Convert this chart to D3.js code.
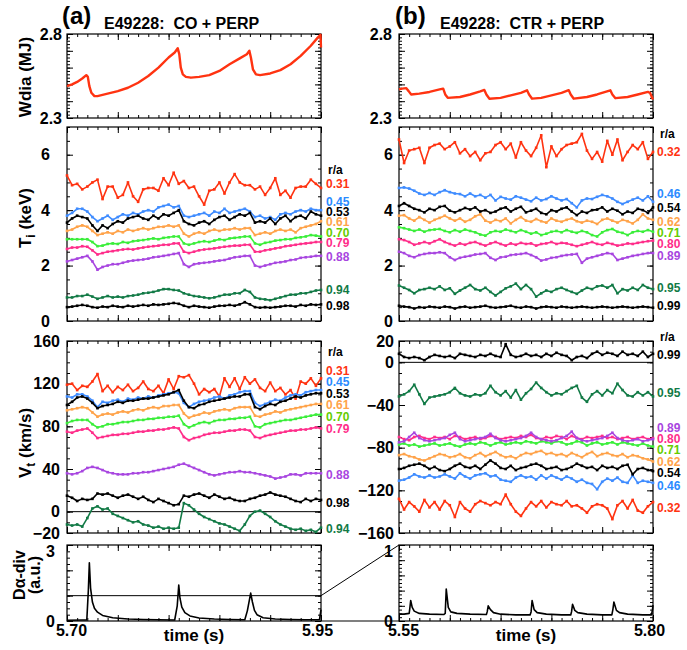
<!DOCTYPE html>
<html>
<head>
<meta charset="utf-8">
<script src="https://cdn.jsdelivr.net/npm/d3@7"></script>
<style>
  body { margin: 0; background: #fff; }
  svg { display: block; }
  text { font-family: "Liberation Sans", Arial, Helvetica, sans-serif; font-weight: bold; }
</style>
</head>
<body>
<svg id="chart" width="687" height="650"></svg>
<script>
// ---------------- data ----------------
// profile radii (r/a) for each column
const radiiA = ["0.31", "0.45", "0.53", "0.61", "0.70", "0.79", "0.88", "0.94", "0.98"];
const radiiB = ["0.32", "0.46", "0.54", "0.62", "0.71", "0.80", "0.89", "0.95", "0.99"];

// sampling of the profile channels (s)
const tStartA = 5.70, tStartB = 5.55, sampleStep = 0.005, sampleCount = 51;

// Stored energy (MJ): [time, value]
const wdiaTimeA = [5.700,5.705,5.710,5.715,5.719,5.7205,5.722,5.724,5.727,5.730,5.740,5.750,5.760,5.770,5.780,5.790,5.800,5.806,5.809,5.8105,5.812,5.814,5.817,5.822,5.830,5.840,5.850,5.860,5.870,5.877,5.8795,5.881,5.883,5.886,5.890,5.900,5.910,5.920,5.930,5.940,5.947,5.9495,5.950];
const wdiaA     = [2.49,2.50,2.515,2.535,2.555,2.545,2.49,2.45,2.43,2.43,2.445,2.46,2.48,2.51,2.55,2.60,2.66,2.69,2.715,2.68,2.60,2.56,2.545,2.54,2.545,2.555,2.58,2.62,2.655,2.68,2.70,2.66,2.59,2.56,2.555,2.565,2.585,2.62,2.67,2.73,2.78,2.795,2.72];
const wdiaTimeB = [5.550,5.553,5.557,5.5595,5.562,5.570,5.580,5.590,5.5935,5.5955,5.598,5.610,5.620,5.630,5.634,5.636,5.639,5.650,5.660,5.670,5.676,5.678,5.681,5.690,5.700,5.710,5.717,5.719,5.722,5.735,5.745,5.758,5.760,5.763,5.775,5.785,5.795,5.797,5.800];
const wdiaB     = [2.47,2.475,2.478,2.46,2.44,2.445,2.455,2.47,2.475,2.44,2.42,2.425,2.44,2.458,2.467,2.44,2.415,2.42,2.435,2.45,2.465,2.44,2.415,2.42,2.435,2.45,2.466,2.44,2.415,2.425,2.44,2.465,2.44,2.418,2.425,2.44,2.455,2.45,2.41];

// Ion temperature (keV), column (a)
const tiA_031 = [5.25,4.9,4.95,4.75,4.85,5.0,5.1,4.4,4.85,4.85,4.45,4.55,5.0,4.5,4.3,4.75,4.8,4.8,4.7,5.15,4.9,5.35,4.95,5.05,4.8,4.85,4.5,4.2,4.7,4.75,5.0,4.6,5.0,5.3,5.0,4.9,4.9,4.75,4.85,4.55,4.8,5.15,4.55,4.7,4.45,4.8,4.85,4.85,5.1,4.95,4.8];
const tiA_045 = [3.8,3.9,4.05,4.05,3.95,3.75,3.6,3.7,3.8,3.65,3.75,3.85,3.8,3.9,3.85,3.95,4.0,3.95,4.1,4.15,4.2,4.1,4.15,3.8,3.75,3.8,3.85,3.9,3.8,3.95,3.9,4.05,3.9,3.95,4.0,4.05,3.95,3.75,3.8,3.7,3.75,3.65,3.85,3.9,3.85,3.95,4.0,3.95,4.05,4.0,4.0];
const tiA_053 = [3.55,3.7,3.8,3.75,3.7,3.45,3.25,3.45,3.35,3.5,3.6,3.55,3.7,3.75,3.8,3.7,3.65,3.8,3.7,3.85,3.8,3.9,4.0,3.6,3.5,3.45,3.55,3.6,3.5,3.65,3.75,3.8,3.65,3.75,3.85,3.8,3.9,3.55,3.6,3.55,3.7,3.5,3.7,3.8,3.6,3.75,3.8,3.7,3.95,3.85,3.8];
const tiA_061 = [3.25,3.3,3.4,3.45,3.4,3.25,3.1,3.15,3.2,3.15,3.25,3.2,3.3,3.25,3.3,3.35,3.3,3.35,3.4,3.4,3.45,3.4,3.45,3.15,3.05,3.15,3.2,3.15,3.25,3.3,3.25,3.3,3.3,3.35,3.3,3.35,3.35,3.1,3.15,3.2,3.15,3.25,3.3,3.25,3.3,3.2,3.35,3.4,3.45,3.5,3.6];
const tiA_070 = [2.95,2.95,2.95,2.95,2.95,2.85,2.7,2.72,2.78,2.8,2.78,2.85,2.82,2.88,2.9,2.92,2.95,2.98,2.95,3.0,3.02,3.05,3.05,2.8,2.75,2.8,2.85,2.88,2.85,2.9,2.95,2.92,2.98,3.0,3.02,3.05,3.05,2.8,2.75,2.82,2.85,2.9,2.92,2.95,2.95,3.0,3.02,3.05,3.1,3.08,3.05];
const tiA_079 = [2.6,2.65,2.65,2.7,2.68,2.55,2.4,2.45,2.5,2.52,2.55,2.58,2.6,2.58,2.62,2.65,2.68,2.7,2.72,2.75,2.75,2.8,2.8,2.5,2.45,2.5,2.55,2.58,2.6,2.62,2.65,2.68,2.7,2.72,2.72,2.75,2.75,2.5,2.5,2.55,2.58,2.62,2.65,2.7,2.72,2.75,2.78,2.8,2.82,2.85,2.85];
const tiA_088 = [2.15,2.2,2.25,2.3,2.35,2.15,1.85,1.95,2.0,2.05,2.05,2.1,2.15,2.18,2.2,2.22,2.25,2.3,2.32,2.35,2.38,2.42,2.45,2.05,1.95,2.05,2.08,2.1,2.12,2.15,2.18,2.2,2.25,2.3,2.32,2.35,2.35,2.0,1.95,2.0,2.05,2.1,2.12,2.15,2.2,2.22,2.28,2.3,2.32,2.35,2.35];
const tiA_094 = [0.85,0.85,0.9,0.9,0.95,0.88,0.8,0.85,0.9,0.85,0.88,0.85,0.9,0.92,0.95,1.0,1.02,1.05,1.1,1.15,1.15,1.12,1.1,1.0,0.95,0.9,0.88,0.85,0.82,0.85,0.9,0.95,0.95,1.0,1.0,1.12,1.05,0.85,0.8,0.78,0.75,0.8,0.85,0.9,0.95,0.95,1.0,1.0,1.05,1.1,1.12];
const tiA_098 = [0.5,0.52,0.55,0.58,0.55,0.5,0.48,0.52,0.5,0.55,0.52,0.5,0.55,0.52,0.55,0.58,0.55,0.6,0.58,0.6,0.62,0.65,0.62,0.55,0.5,0.55,0.52,0.5,0.48,0.52,0.55,0.55,0.58,0.55,0.6,0.68,0.6,0.5,0.48,0.5,0.48,0.5,0.52,0.55,0.55,0.52,0.58,0.55,0.6,0.58,0.6];

// Ion temperature (keV), column (b)
const tiB_032 = [6.55,5.7,6.15,6.2,6.25,5.7,6.25,6.35,6.4,6.2,6.3,6.45,6.05,6.2,5.95,6.1,5.8,6.05,6.1,6.35,6.45,6.2,6.4,5.9,6.45,6.15,5.95,6.25,6.7,5.55,6.3,5.95,6.2,6.35,6.4,6.45,6.75,6.15,5.85,6.1,5.75,6.5,6.0,6.55,5.8,6.1,6.35,6.2,6.45,5.85,6.1];
const tiB_046 = [4.8,4.82,4.78,4.7,4.6,4.55,4.62,4.55,4.65,4.72,4.65,4.6,4.58,4.5,4.6,4.5,4.55,4.45,4.55,4.35,4.48,4.42,4.38,4.5,4.45,4.38,4.32,4.45,4.35,4.4,4.5,4.42,4.35,4.4,4.25,4.1,4.35,4.42,4.4,4.48,4.55,4.5,4.42,4.3,4.22,4.3,4.38,4.45,4.35,4.5,4.3];
const tiB_054 = [4.15,4.25,4.15,4.05,4.0,3.92,4.05,4.0,4.12,4.15,3.98,3.92,4.0,4.08,4.02,4.1,3.95,4.0,3.9,3.95,4.05,4.1,3.95,4.05,4.12,3.92,3.98,4.05,3.9,3.85,4.0,3.95,4.05,4.1,3.95,3.82,3.95,3.9,4.0,4.02,4.1,3.95,4.05,3.98,3.85,3.95,3.9,4.05,4.0,3.9,4.1];
const tiB_062 = [3.8,3.82,3.7,3.62,3.75,3.65,3.55,3.65,3.72,3.8,3.7,3.62,3.7,3.58,3.65,3.78,3.85,3.62,3.55,3.65,3.6,3.7,3.52,3.65,3.75,3.62,3.58,3.68,3.6,3.55,3.7,3.62,3.58,3.65,3.7,3.6,3.55,3.62,3.58,3.5,3.65,3.7,3.62,3.55,3.65,3.6,3.52,3.65,3.85,3.7,3.65];
const tiB_071 = [3.38,3.35,3.3,3.25,3.3,3.22,3.28,3.3,3.32,3.25,3.2,3.28,3.22,3.3,3.25,3.2,3.12,3.08,3.2,3.25,3.22,3.3,3.25,3.2,3.28,3.22,3.15,3.2,3.1,3.15,3.22,3.25,3.2,3.28,3.22,3.18,3.25,3.2,3.1,3.05,3.2,3.28,3.32,3.22,3.18,3.1,3.2,3.25,3.22,3.28,3.22];
const tiB_080 = [2.95,2.92,2.85,2.75,2.8,2.85,2.8,2.88,2.95,2.85,2.78,2.72,2.8,2.75,2.82,2.85,2.78,2.72,2.8,2.85,2.78,2.72,2.8,2.75,2.82,2.78,2.8,2.72,2.78,2.8,2.85,2.78,2.82,2.8,2.75,2.7,2.75,2.8,2.85,2.78,2.75,2.82,2.78,2.72,2.75,2.8,2.78,2.82,2.85,2.88,2.9];
const tiB_089 = [2.5,2.45,2.35,2.3,2.38,2.42,2.45,2.45,2.48,2.45,2.3,2.2,2.28,2.32,2.35,2.4,2.42,2.45,2.28,2.2,2.3,2.32,2.38,2.4,2.42,2.45,2.38,2.3,2.18,2.22,2.28,2.3,2.35,2.38,2.4,2.42,2.1,2.25,2.3,2.35,2.4,2.45,2.42,2.2,2.25,2.3,2.35,2.38,2.42,2.45,2.45];
const tiB_095 = [1.28,1.2,1.12,1.0,1.12,1.15,1.2,1.15,1.25,1.12,1.18,0.98,1.1,1.2,1.3,1.15,1.1,1.2,1.05,0.92,1.05,1.18,1.25,1.35,1.15,1.3,1.15,0.88,1.0,1.1,1.05,1.15,1.2,1.12,1.05,0.98,1.1,1.2,1.15,1.25,1.28,1.2,1.3,1.0,1.15,1.1,1.2,1.12,1.3,1.2,1.15];
const tiB_099 = [0.55,0.52,0.5,0.45,0.5,0.48,0.52,0.5,0.48,0.52,0.5,0.45,0.5,0.52,0.48,0.5,0.52,0.55,0.5,0.48,0.5,0.52,0.55,0.5,0.48,0.52,0.5,0.45,0.5,0.52,0.5,0.48,0.52,0.5,0.48,0.5,0.52,0.5,0.48,0.5,0.52,0.5,0.48,0.5,0.52,0.5,0.48,0.5,0.52,0.5,0.48];

// Toroidal rotation (km/s), column (a)
const vtA_031 = [119,120,114,118,117,122,129,113,118,112,117,114,119,113,116,122,115,113,118,111,124,115,127,126,128,120,110,115,112,115,108,125,117,125,115,126,120,124,116,113,121,113,116,110,114,106,122,120,125,118,125];
const vtA_045 = [108,107,110,110,108,104,98,103,102,104,105,103,106,105,107,106,108,107,109,110,111,112,111,102,98,101,103,104,105,107,108,106,109,110,112,113,113,102,99,101,103,105,104,107,109,110,109,112,113,114,114];
const vtA_053 = [100,103,107,108,106,102,97,99,100,101,103,102,104,104,105,106,106,107,108,109,110,112,114,104,98,97,100,101,103,104,105,106,107,108,108,110,110,98,96,99,101,100,103,104,106,108,107,109,110,111,111];
const vtA_061 = [95,96,97,98,97,93,89,91,92,91,93,94,93,95,96,95,97,98,97,99,99,100,100,92,88,90,91,93,92,94,95,96,95,97,98,98,98,90,89,91,92,94,93,95,96,97,98,99,100,101,101];
const vtA_070 = [83,85,86,86,86,82,79,80,82,82,83,84,84,85,86,86,87,87,88,88,89,89,90,82,79,81,83,84,83,85,86,86,87,87,88,88,89,80,79,82,83,84,85,86,86,87,88,89,90,91,91];
const vtA_079 = [75,74,76,77,78,74,69,70,71,72,72,73,73,74,75,75,76,76,77,77,78,79,78,70,67,69,70,72,73,74,74,75,76,76,77,77,76,70,69,71,72,73,74,75,76,76,77,77,78,79,78];
const vtA_088 = [36,35,36,38,41,42,41,39,37,36,35,35,35,36,36,37,37,38,39,40,41,42,44,45,43,41,39,37,35,34,35,36,37,37,38,37,37,36,35,34,33,31,32,33,35,35,34,36,36,36,36];
const vtA_094 = [-12,-13,-12,-14,-6,3,5,2,3,-2,-4,-6,-8,-10,-9,-12,-13,-15,-14,-16,-15,-16,-15,8,6,2,-2,-5,-7,-9,-11,-12,-14,-16,-18,-12,-4,0,1,-2,-5,-9,-12,-14,-16,-17,-16,-18,-17,-19,-15];
const vtA_098 = [15,13,10,12,11,12,17,16,17,15,13,15,16,14,12,14,11,9,12,10,8,6,7,15,14,16,17,15,13,16,14,12,13,11,10,10,12,13,15,16,18,16,15,14,12,10,9,12,10,12,11];

// Toroidal rotation (km/s), column (b)
const vtB_032 = [-128,-138,-131,-135,-140,-129,-136,-131,-138,-130,-134,-145,-131,-137,-140,-133,-130,-132,-134,-131,-133,-124,-133,-140,-144,-137,-131,-135,-130,-136,-131,-133,-134,-130,-135,-134,-137,-141,-135,-133,-134,-137,-147,-134,-130,-137,-129,-139,-141,-135,-131];
const vtB_046 = [-111,-110,-108,-105,-107,-108,-106,-108,-107,-105,-107,-109,-104,-107,-109,-106,-105,-104,-107,-106,-110,-111,-112,-108,-106,-108,-107,-110,-106,-109,-106,-108,-110,-107,-109,-112,-110,-113,-114,-119,-112,-109,-111,-108,-112,-113,-106,-113,-111,-112,-113];
const vtB_054 = [-100,-99,-97,-96,-95,-97,-100,-98,-101,-102,-100,-97,-95,-98,-99,-97,-100,-96,-92,-95,-99,-100,-97,-101,-99,-98,-96,-95,-97,-100,-99,-98,-101,-100,-98,-95,-97,-99,-98,-101,-97,-99,-98,-100,-97,-96,-105,-100,-99,-101,-102];
const vtB_062 = [-87,-86,-88,-89,-91,-92,-90,-88,-86,-87,-89,-88,-86,-89,-90,-87,-85,-88,-86,-84,-87,-89,-88,-90,-87,-85,-86,-84,-83,-86,-85,-87,-86,-88,-85,-87,-89,-86,-84,-88,-86,-85,-87,-88,-86,-89,-87,-88,-90,-91,-93];
const vtB_071 = [-77,-76,-78,-77,-79,-78,-77,-76,-78,-77,-76,-78,-79,-77,-76,-77,-75,-76,-78,-76,-75,-77,-76,-75,-76,-74,-75,-76,-74,-75,-76,-74,-75,-77,-76,-74,-75,-78,-76,-75,-77,-76,-75,-77,-75,-76,-77,-78,-76,-78,-79];
const vtB_080 = [-70,-72,-73,-70,-69,-71,-72,-70,-71,-70,-72,-69,-70,-72,-71,-70,-72,-71,-69,-70,-72,-71,-70,-71,-69,-70,-68,-71,-72,-70,-71,-69,-70,-72,-69,-71,-72,-70,-71,-70,-69,-71,-70,-72,-71,-70,-72,-71,-70,-72,-71];
const vtB_089 = [-75,-74,-70,-66,-71,-73,-74,-73,-72,-71,-68,-66,-72,-74,-73,-72,-71,-70,-67,-71,-73,-74,-73,-72,-71,-69,-66,-70,-72,-73,-74,-73,-71,-69,-65,-71,-73,-74,-73,-72,-71,-69,-66,-71,-73,-74,-73,-72,-74,-73,-72];
const vtB_095 = [-32,-30,-27,-21,-30,-39,-33,-32,-31,-30,-28,-24,-29,-31,-32,-30,-31,-29,-22,-28,-31,-27,-33,-26,-35,-29,-25,-19,-24,-28,-31,-29,-30,-27,-24,-22,-33,-37,-30,-27,-31,-26,-29,-20,-26,-31,-32,-28,-31,-28,-32];
const vtB_099 = [8,5,4,5,4,2,5,7,6,5,6,4,8,7,6,5,7,6,8,6,5,17,7,5,6,8,6,7,5,8,6,9,7,6,2,5,6,4,8,10,7,9,8,6,10,7,8,6,10,5,8];

// Divertor D-alpha (a.u.): [time, value]
const daTimeA = [5.700,5.715,5.7195,5.7210,5.7220,5.7232,5.725,5.727,5.730,5.735,5.745,5.760,5.775,5.790,5.806,5.8085,5.8100,5.8112,5.813,5.816,5.821,5.830,5.845,5.860,5.875,5.8775,5.8808,5.8825,5.8845,5.887,5.893,5.905,5.920,5.935,5.9485,5.950];
const daA     = [0.03,0.04,0.04,1.2,2.3,1.3,0.75,0.5,0.35,0.22,0.13,0.08,0.06,0.05,0.04,0.6,1.42,0.9,0.55,0.33,0.2,0.12,0.08,0.06,0.05,0.4,1.1,0.75,0.42,0.25,0.13,0.08,0.06,0.05,0.05,0.45];
const daTimeB = [5.550,5.555,5.560,5.5605,5.5615,5.563,5.565,5.570,5.580,5.594,5.5955,5.5965,5.5985,5.601,5.607,5.620,5.636,5.6368,5.6378,5.640,5.643,5.650,5.665,5.679,5.680,5.681,5.683,5.686,5.695,5.710,5.719,5.7198,5.7208,5.723,5.726,5.735,5.750,5.7595,5.7605,5.7615,5.764,5.767,5.775,5.790,5.7985,5.7995,5.800];
const daB     = [0.09,0.09,0.1,0.15,0.27,0.18,0.13,0.1,0.09,0.085,0.1,0.42,0.18,0.12,0.1,0.09,0.085,0.12,0.2,0.15,0.11,0.09,0.08,0.08,0.12,0.27,0.15,0.11,0.09,0.08,0.08,0.12,0.22,0.14,0.11,0.09,0.08,0.08,0.15,0.25,0.14,0.11,0.09,0.08,0.08,0.15,0.21];

// ---------------- styling / layout ----------------
const lineColors  = ["#ff3311", "#3f8cff", "#000000", "#ffa34a", "#3aee3a", "#ff2d8a", "#a846e0", "#127a46", "#000000"];
const labelColors = ["#ff3311", "#2a8bff", "#000000", "#ffa34a", "#66cc00", "#ff2d8a", "#a846e0", "#127a46", "#000000"];
const colA = { x0: 67, x1: 321 }, colB = { x0: 399, x1: 653 };
const rowW = [34, 118], rowTi = [127, 321], rowVt = [341, 533], rowDa = [545, 621];
const FONT = '"Liberation Sans", Arial, Helvetica, sans-serif';

const svg = d3.select("#chart");

function panel(col, row, xDom, yDom) {
  return {
    x: d3.scaleLinear().domain(xDom).range([col.x0, col.x1]),
    y: d3.scaleLinear().domain(yDom).range([row[1], row[0]])
  };
}

function stepValues(lo, hi, step) {
  const n = Math.round((hi - lo) / step);
  return d3.range(n + 1).map(k => +(lo + k * step).toFixed(6));
}

// frame, inward ticks on all four sides, labelled left axis
function drawAxes(p, o) {
  const g = svg.append("g");
  const [xl, xr] = p.x.range(), [yb, yt] = p.y.range();
  const noDomain = s => s.select(".domain").remove();
  const xd = p.x.domain();
  const xMinor = stepValues(xd[0], xd[1], 0.01);
  const xMajor = stepValues(xd[0], xd[1], 0.05);
  [[d3.axisBottom, yb], [d3.axisTop, yt]].forEach(([ax, yy]) => {
    g.append("g").attr("transform", `translate(0,${yy})`)
      .call(ax(p.x).tickValues(xMinor).tickSize(-3).tickFormat("")).call(noDomain);
    g.append("g").attr("transform", `translate(0,${yy})`)
      .call(ax(p.x).tickValues(xMajor).tickSize(-6).tickFormat("")).call(noDomain);
  });
  const yd = p.y.domain();
  const yMinor = stepValues(yd[0], yd[1], o.minor);
  const yMajor = o.major;
  g.append("g").attr("transform", `translate(${xl},0)`)
    .call(d3.axisLeft(p.y).tickValues(yMinor).tickSize(-3).tickFormat("")).call(noDomain);
  g.append("g").attr("transform", `translate(${xr},0)`)
    .call(d3.axisRight(p.y).tickValues(yMinor).tickSize(-3).tickFormat("")).call(noDomain);
  g.append("g").attr("transform", `translate(${xr},0)`)
    .call(d3.axisRight(p.y).tickValues(yMajor).tickSize(-6).tickFormat("")).call(noDomain);
  g.append("g").attr("transform", `translate(${xl},0)`)
    .call(d3.axisLeft(p.y).tickValues(yMajor).tickSize(-6).tickPadding(o.pad || 6)
      .tickFormat(v => o.labels.some(l => Math.abs(l - v) < 1e-6) ? o.fmt(v) : ""))
    .call(noDomain)
    .call(s => s.selectAll("text").attr("font-size", 16).attr("font-family", FONT)
      .attr("font-weight", "bold").attr("fill", "#000")
      .attr("transform", d => (o.topShift && Math.abs(d - yd[1]) < 1e-6) ? `translate(0,${o.topShift})` : null));
  g.selectAll(".tick line").attr("stroke", "#000").attr("stroke-width", 1);
  g.append("rect").attr("x", xl).attr("y", yt).attr("width", xr - xl).attr("height", yb - yt)
    .attr("fill", "none").attr("stroke", "#000").attr("stroke-width", 1.2);
  if (o.xLabels) {
    g.append("g").attr("transform", `translate(0,${yb})`)
      .call(d3.axisBottom(p.x).tickValues(xd).tickSize(0).tickPadding(4).tickFormat(d3.format(".2f")))
      .call(noDomain)
      .call(s => s.selectAll("text").attr("font-size", 16).attr("font-family", FONT)
        .attr("font-weight", "bold").attr("fill", "#000")
        .attr("dx", (d, i) => i === 0 ? 4 : -4));
    g.append("text").attr("x", (xl + xr) / 2).attr("y", 641).attr("text-anchor", "middle")
      .attr("font-size", 17).text("time (s)");
  }
}

function drawSeries(p, times, vals, color, width, markers) {
  const pts = times.map((t, i) => [t, vals[i]]);
  const line = d3.line().x(d => p.x(d[0])).y(d => p.y(d[1]));
  svg.append("path").datum(pts).attr("d", line).attr("fill", "none")
    .attr("stroke", color).attr("stroke-width", width).attr("stroke-linejoin", "round");
  if (markers) {
    svg.append("g").selectAll("rect").data(pts).join("rect")
      .attr("x", d => p.x(d[0]) - 1.3).attr("y", d => p.y(d[1]) - 1.3)
      .attr("width", 2.6).attr("height", 2.6).attr("fill", color);
  }
}

function zeroLine(p, v) {
  const [xl, xr] = p.x.range();
  svg.append("line").attr("x1", xl).attr("x2", xr).attr("y1", p.y(v)).attr("y2", p.y(v))
    .attr("stroke", "#000").attr("stroke-width", 1);
}

function radiusLabels(x, rx, ryTop, radii, ys) {
  svg.append("text").attr("x", rx).attr("y", ryTop + 4).attr("font-size", 12).text("r/a");
  radii.forEach((r, i) => {
    svg.append("text").attr("x", x).attr("y", ys[i] + 4).attr("font-size", 12)
      .attr("fill", labelColors[i]).text(r);
  });
}

const timesA = d3.range(sampleCount).map(i => tStartA + i * sampleStep);
const timesB = d3.range(sampleCount).map(i => tStartB + i * sampleStep);

// ---------------- panels ----------------
const pWA = panel(colA, rowW, [5.70, 5.95], [2.3, 2.8]);
const pWB = panel(colB, rowW, [5.55, 5.80], [2.3, 2.8]);
const pTA = panel(colA, rowTi, [5.70, 5.95], [0, 7]);
const pTB = panel(colB, rowTi, [5.55, 5.80], [0, 7]);
const pVA = panel(colA, rowVt, [5.70, 5.95], [-20, 160]);
const pVB = panel(colB, rowVt, [5.55, 5.80], [-160, 20]);
const pDA = panel(colA, rowDa, [5.70, 5.95], [0, 3]);
const pDB = panel(colB, rowDa, [5.55, 5.80], [0, 1]);

const f1 = d3.format(".1f"), f0 = d3.format("d");

drawAxes(pWA, { minor: 0.02, major: stepValues(2.3, 2.8, 0.1), labels: [2.3, 2.8], fmt: f1, pad: 5 });
drawAxes(pWB, { minor: 0.02, major: stepValues(2.3, 2.8, 0.1), labels: [2.3, 2.8], fmt: f1, pad: 7 });
drawAxes(pTA, { minor: 0.5, major: [0, 2, 4, 6], labels: [0, 2, 4, 6], fmt: f0, pad: 17 });
drawAxes(pTB, { minor: 0.5, major: [0, 2, 4, 6], labels: [0, 2, 4, 6], fmt: f0, pad: 6 });
drawAxes(pVA, { minor: 10, major: [-20, 0, 40, 80, 120, 160], labels: [-20, 0, 40, 80, 120, 160], fmt: f0, pad: 7 });
drawAxes(pVB, { minor: 10, major: [-160, -120, -80, -40, 0, 20], labels: [-160, -120, -80, -40, 0, 20], fmt: f0, pad: 5 });
drawAxes(pDA, { minor: 0.25, major: [0, 1, 2, 3], labels: [0, 3], fmt: f0, pad: 12, xLabels: true, topShift: 6 });
drawAxes(pDB, { minor: 0.05, major: stepValues(0, 1, 0.2), labels: [0, 1], fmt: f0, pad: 6, xLabels: true, topShift: 6 });

// stored energy
drawSeries(pWA, wdiaTimeA, wdiaA, "#ff3311", 2.4, false);
drawSeries(pWB, wdiaTimeB, wdiaB, "#ff3311", 2.4, false);

// ion temperature
const tiSetA = [tiA_031, tiA_045, tiA_053, tiA_061, tiA_070, tiA_079, tiA_088, tiA_094, tiA_098];
const tiSetB = [tiB_032, tiB_046, tiB_054, tiB_062, tiB_071, tiB_080, tiB_089, tiB_095, tiB_099];
tiSetA.forEach((v, i) => drawSeries(pTA, timesA, v, lineColors[i], 1.6, true));
tiSetB.forEach((v, i) => drawSeries(pTB, timesB, v, lineColors[i], 1.6, true));

// toroidal rotation
zeroLine(pVA, 0);
zeroLine(pVB, 0);
const vtSetA = [vtA_031, vtA_045, vtA_053, vtA_061, vtA_070, vtA_079, vtA_088, vtA_094, vtA_098];
const vtSetB = [vtB_032, vtB_046, vtB_054, vtB_062, vtB_071, vtB_080, vtB_089, vtB_095, vtB_099];
vtSetA.forEach((v, i) => drawSeries(pVA, timesA, v, lineColors[i], 1.6, true));
vtSetB.forEach((v, i) => drawSeries(pVB, timesB, v, lineColors[i], 1.6, true));

// D-alpha
zeroLine(pDA, 1);
drawSeries(pDA, daTimeA, daA, "#000", 1.6, false);
drawSeries(pDB, daTimeB, daB, "#000", 1.6, false);

// zoom connectors between the two D-alpha panels
svg.append("line").attr("x1", colA.x1).attr("y1", pDA.y(1)).attr("x2", colB.x0).attr("y2", pDB.y(1))
  .attr("stroke", "#000").attr("stroke-width", 1);
svg.append("line").attr("x1", colA.x1).attr("y1", pDA.y(0)).attr("x2", colB.x0).attr("y2", pDB.y(0))
  .attr("stroke", "#000").attr("stroke-width", 1.2);

// radius labels
radiusLabels(326, 328, 170, radiiA, [184, 202, 212, 222, 233, 243, 257, 290, 306]);
radiusLabels(657, 660, 134, radiiB, [152, 194, 208, 222, 233, 244, 256, 288, 306]);
radiusLabels(326, 328, 352, radiiA, [371, 382, 394, 405, 417, 429, 475, 529, 503]);
radiusLabels(657, 660, 337, radiiB, [508, 486, 473, 462, 450, 439, 428, 393, 355]);

// headings
svg.append("text").attr("x", 62).attr("y", 24).attr("font-size", 24).text("(a)");
svg.append("text").attr("x", 104).attr("y", 29).attr("font-size", 16).style("white-space", "pre")
  .text("E49228:  CO + PERP");
svg.append("text").attr("x", 395).attr("y", 24).attr("font-size", 24).text("(b)");
svg.append("text").attr("x", 440).attr("y", 29).attr("font-size", 16).style("white-space", "pre")
  .text("E49228:  CTR + PERP");

// axis titles
svg.append("text").attr("transform", "translate(31,77) rotate(-90)").attr("text-anchor", "middle")
  .attr("font-size", 17).text("Wdia (MJ)");
const tiT = svg.append("text").attr("transform", "translate(31,218) rotate(-90)").attr("text-anchor", "middle")
  .attr("font-size", 17);
tiT.append("tspan").text("T");
tiT.append("tspan").attr("font-size", 12).attr("dy", 4).text("i");
tiT.append("tspan").attr("dy", -4).text(" (keV)");
const vtT = svg.append("text").attr("transform", "translate(31,443) rotate(-90)").attr("text-anchor", "middle")
  .attr("font-size", 17);
vtT.append("tspan").text("V");
vtT.append("tspan").attr("font-size", 12).attr("dy", 4).text("t");
vtT.append("tspan").attr("dy", -4).text(" (km/s)");
svg.append("text").attr("transform", "translate(25,575) rotate(-90)").attr("text-anchor", "middle")
  .attr("font-size", 16).text("Dα-div");
svg.append("text").attr("transform", "translate(40,575) rotate(-90)").attr("text-anchor", "middle")
  .attr("font-size", 16).text("(a.u.)");
</script>
</body>
</html>
